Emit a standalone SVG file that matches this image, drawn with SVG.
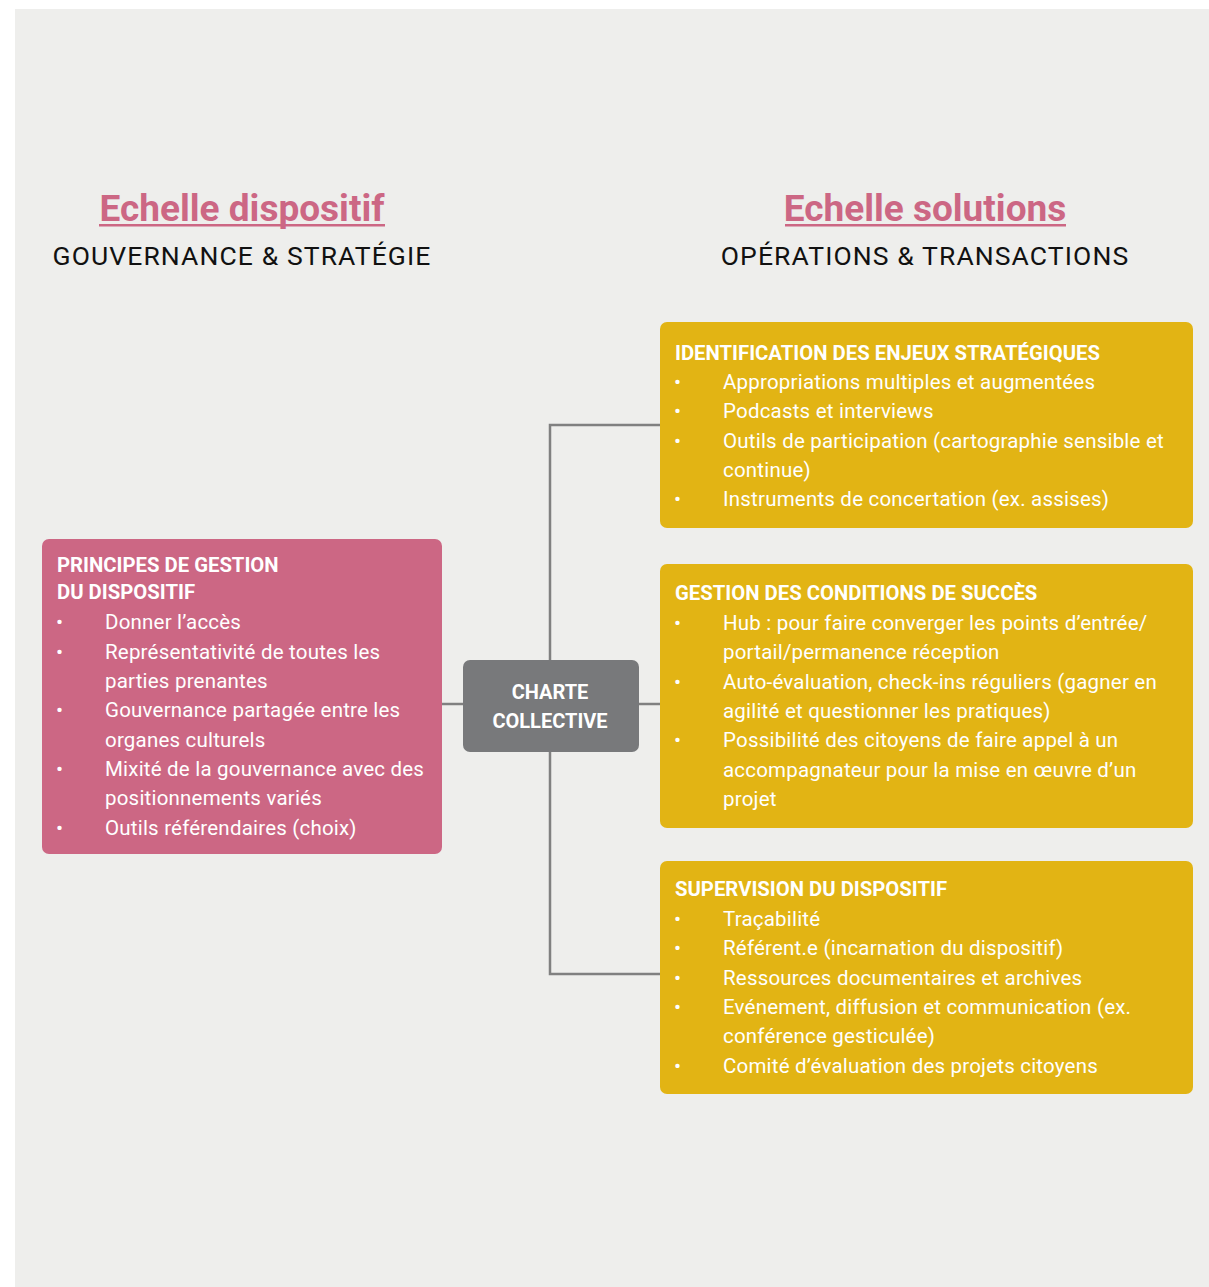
<svg xmlns="http://www.w3.org/2000/svg" width="1209" height="1287" viewBox="0 0 1209 1287">
  <style>
    .title { font-family: Roboto, "Liberation Sans", sans-serif; font-weight: 700; font-size: 37px; fill: #cc6784; text-anchor: middle; }
    .sub { font-family: Roboto, "Liberation Sans", sans-serif; font-size: 26.5px; letter-spacing: 1.1px; fill: #111; text-anchor: middle; }
    .head { font-family: Roboto, "Liberation Sans", sans-serif; font-weight: 700; font-size: 20.3px; fill: #fff; }
    .item { font-family: Roboto, "Liberation Sans", sans-serif; font-size: 20.5px; letter-spacing: 0.2px; fill: #fff; }
    .bul { font-family: Roboto, "Liberation Sans", sans-serif; font-size: 21px; fill: #fff; }
    .center { font-family: Roboto, "Liberation Sans", sans-serif; font-weight: 700; font-size: 20px; fill: #fff; text-anchor: middle; }
    .yel { fill: #e2b414; }
    .pink { fill: #cc6784; }
    .gray { fill: #78797b; }
    .link { fill: none; stroke: #808080; stroke-width: 2.5; }
  </style>

  <rect x="0" y="0" width="1209" height="1287" fill="#ffffff"/>
  <rect x="15" y="9" width="1194" height="1278" fill="#eeeeec"/>

  <!-- column headers -->
  <g id="header-left">
    <text class="title" x="242" y="221">Echelle dispositif</text>
    <rect x="99" y="224" width="286" height="2.5" fill="#cc6784"/>
    <text class="sub" x="242" y="265">GOUVERNANCE &amp; STRATÉGIE</text>
  </g>
  <g id="header-right">
    <text class="title" x="925" y="221">Echelle solutions</text>
    <rect x="785" y="224" width="281" height="2.5" fill="#cc6784"/>
    <text class="sub" x="925" y="265">OPÉRATIONS &amp; TRANSACTIONS</text>
  </g>

  <!-- connectors -->
  <g id="connectors">
    <line class="link" x1="442" y1="704" x2="463" y2="704"/>
    <line class="link" x1="639" y1="704" x2="660" y2="704"/>
    <polyline class="link" points="660,425 550,425 550,660"/>
    <polyline class="link" points="550,752 550,974 660,974"/>
  </g>

  <!-- left: governance principles -->
  <g id="node-principes">
    <rect class="pink" x="42" y="539" width="400" height="315" rx="7"/>
    <text class="head" x="57" y="572">PRINCIPES DE GESTION</text>
    <text class="head" x="57" y="599">DU DISPOSITIF</text>
    <g class="bul">
      <text x="56" y="629">•</text>
      <text x="56" y="659">•</text>
      <text x="56" y="717">•</text>
      <text x="56" y="776">•</text>
      <text x="56" y="835">•</text>
    </g>
    <text class="item" x="105" y="629">Donner l’accès</text>
    <text class="item" x="105" y="659">Représentativité de toutes les</text>
    <text class="item" x="105" y="688">parties prenantes</text>
    <text class="item" x="105" y="717">Gouvernance partagée entre les</text>
    <text class="item" x="105" y="747">organes culturels</text>
    <text class="item" x="105" y="776">Mixité de la gouvernance avec des</text>
    <text class="item" x="105" y="805">positionnements variés</text>
    <text class="item" x="105" y="835">Outils référendaires (choix)</text>
  </g>

  <!-- center -->
  <g id="node-charte">
    <rect class="gray" x="463" y="660" width="176" height="92" rx="7"/>
    <text class="center" x="550" y="699">CHARTE</text>
    <text class="center" x="550" y="728">COLLECTIVE</text>
  </g>

  <!-- right: strategic issues -->
  <g id="node-enjeux">
    <rect class="yel" x="660" y="322" width="533" height="206" rx="7"/>
    <text class="head" x="675" y="360">IDENTIFICATION DES ENJEUX STRATÉGIQUES</text>
    <g class="bul">
      <text x="674" y="389">•</text>
      <text x="674" y="418">•</text>
      <text x="674" y="448">•</text>
      <text x="674" y="506">•</text>
    </g>
    <text class="item" x="723" y="389">Appropriations multiples et augmentées</text>
    <text class="item" x="723" y="418">Podcasts et interviews</text>
    <text class="item" x="723" y="448">Outils de participation (cartographie sensible et</text>
    <text class="item" x="723" y="477">continue)</text>
    <text class="item" x="723" y="506">Instruments de concertation (ex. assises)</text>
  </g>

  <!-- right: success conditions -->
  <g id="node-conditions">
    <rect class="yel" x="660" y="564" width="533" height="264" rx="7"/>
    <text class="head" x="675" y="600">GESTION DES CONDITIONS DE SUCCÈS</text>
    <g class="bul">
      <text x="674" y="630">•</text>
      <text x="674" y="689">•</text>
      <text x="674" y="747">•</text>
    </g>
    <text class="item" x="723" y="630">Hub : pour faire converger les points d’entrée/</text>
    <text class="item" x="723" y="659">portail/permanence réception</text>
    <text class="item" x="723" y="689">Auto-évaluation, check-ins réguliers (gagner en</text>
    <text class="item" x="723" y="718">agilité et questionner les pratiques)</text>
    <text class="item" x="723" y="747">Possibilité des citoyens de faire appel à un</text>
    <text class="item" x="723" y="777">accompagnateur pour la mise en œuvre d’un</text>
    <text class="item" x="723" y="806">projet</text>
  </g>

  <!-- right: supervision -->
  <g id="node-supervision">
    <rect class="yel" x="660" y="861" width="533" height="233" rx="7"/>
    <text class="head" x="675" y="896">SUPERVISION DU DISPOSITIF</text>
    <g class="bul">
      <text x="674" y="926">•</text>
      <text x="674" y="955">•</text>
      <text x="674" y="985">•</text>
      <text x="674" y="1014">•</text>
      <text x="674" y="1073">•</text>
    </g>
    <text class="item" x="723" y="926">Traçabilité</text>
    <text class="item" x="723" y="955">Référent.e (incarnation du dispositif)</text>
    <text class="item" x="723" y="985">Ressources documentaires et archives</text>
    <text class="item" x="723" y="1014">Evénement, diffusion et communication (ex.</text>
    <text class="item" x="723" y="1043">conférence gesticulée)</text>
    <text class="item" x="723" y="1073">Comité d’évaluation des projets citoyens</text>
  </g>
</svg>
